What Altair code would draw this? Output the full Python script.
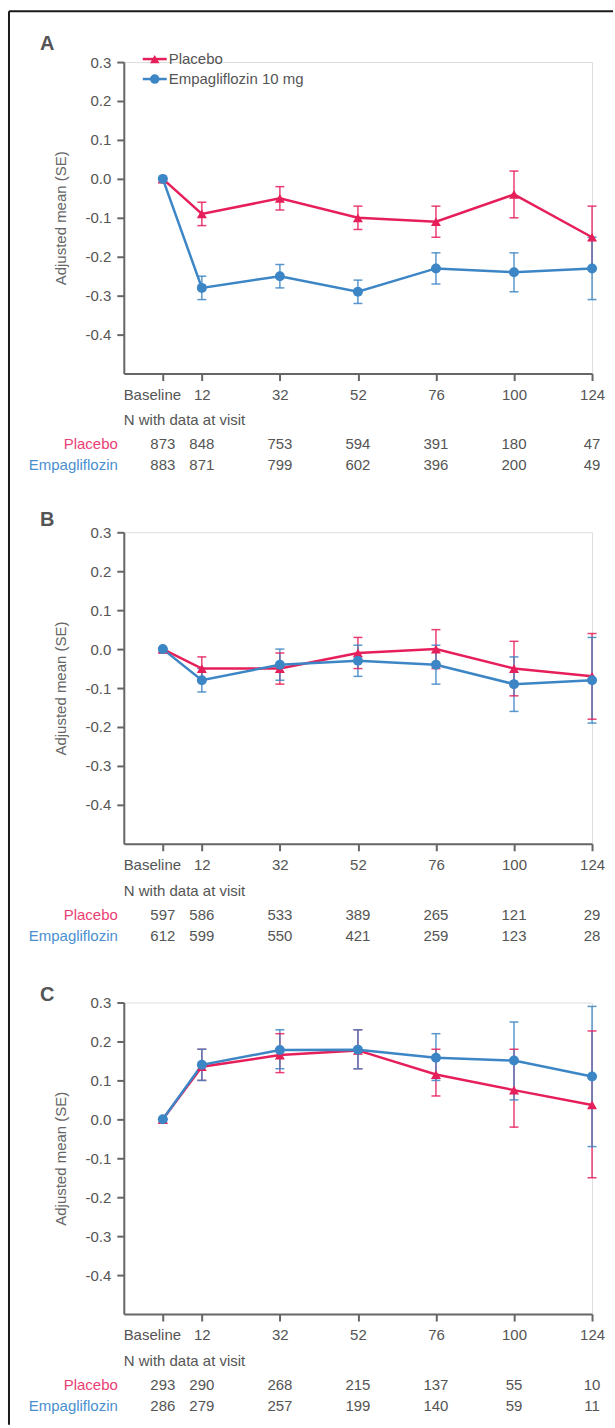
import json
import altair as alt
import pandas as pd

# ---------------- data ----------------
visits = ["Baseline", "12", "32", "52", "76", "100", "124"]
visit_pos = [0.5, 1, 2, 3, 4, 5, 6]          # ordinal slot of each visit on the x axis
groups = ["Placebo", "Empagliflozin 10 mg"]
row_labels = ["Placebo", "Empagliflozin"]
panel_labels = ["A", "B", "C"]
y_ticks = [-0.4, -0.3, -0.2, -0.1, 0.0, 0.1, 0.2, 0.3]

# Panel A
a_pla_mean = [0.0, -0.09, -0.05, -0.10, -0.11, -0.04, -0.15]
a_pla_lo = [-0.01, -0.12, -0.08, -0.13, -0.15, -0.10, -0.23]
a_pla_hi = [0.0, -0.06, -0.02, -0.07, -0.07, 0.02, -0.07]
a_emp_mean = [0.0, -0.28, -0.25, -0.29, -0.23, -0.24, -0.23]
a_emp_lo = [0.0, -0.31, -0.28, -0.32, -0.27, -0.29, -0.31]
a_emp_hi = [0.0, -0.25, -0.22, -0.26, -0.19, -0.19, -0.15]
a_n_pla = [873, 848, 753, 594, 391, 180, 47]
a_n_emp = [883, 871, 799, 602, 396, 200, 49]

# Panel B
b_pla_mean = [0.0, -0.05, -0.05, -0.01, 0.0, -0.05, -0.07]
b_pla_lo = [-0.01, -0.08, -0.09, -0.05, -0.05, -0.12, -0.18]
b_pla_hi = [0.0, -0.02, -0.01, 0.03, 0.05, 0.02, 0.04]
b_emp_mean = [0.0, -0.08, -0.04, -0.03, -0.04, -0.09, -0.08]
b_emp_lo = [0.0, -0.11, -0.08, -0.07, -0.09, -0.16, -0.19]
b_emp_hi = [0.0, -0.05, 0.0, 0.01, 0.01, -0.02, 0.03]
b_n_pla = [597, 586, 533, 389, 265, 121, 29]
b_n_emp = [612, 599, 550, 421, 259, 123, 28]

# Panel C
c_pla_mean = [0.0, 0.135, 0.165, 0.177, 0.115, 0.075, 0.037]
c_pla_lo = [-0.01, 0.10, 0.12, 0.13, 0.06, -0.02, -0.15]
c_pla_hi = [0.0, 0.18, 0.22, 0.23, 0.18, 0.18, 0.227]
c_emp_mean = [0.0, 0.14, 0.178, 0.179, 0.158, 0.151, 0.11]
c_emp_lo = [0.0, 0.10, 0.13, 0.13, 0.10, 0.05, -0.07]
c_emp_hi = [0.0, 0.18, 0.23, 0.23, 0.22, 0.25, 0.29]
c_n_pla = [293, 290, 268, 215, 137, 55, 10]
c_n_emp = [286, 279, 257, 199, 140, 59, 11]

panels = [
    (a_pla_mean, a_pla_lo, a_pla_hi, a_emp_mean, a_emp_lo, a_emp_hi, a_n_pla, a_n_emp),
    (b_pla_mean, b_pla_lo, b_pla_hi, b_emp_mean, b_emp_lo, b_emp_hi, b_n_pla, b_n_emp),
    (c_pla_mean, c_pla_lo, c_pla_hi, c_emp_mean, c_emp_lo, c_emp_hi, c_n_pla, c_n_emp),
]

# ---------------- style ----------------
PINK = "#e61f5a"
BLUE = "#3d86c6"
PINK_TXT = "#ea3f75"
BLUE_TXT = "#4a90d0"
GRAY = "#555555"
AXIS = "#666666"
FONT = "Liberation Sans"
FS = 15
W, H = 469, 312
label_dy = [-12, -6, -2]
shapes = ["triangle-up", "circle"]
colors = [PINK, BLUE]

x_label_expr = f"{json.dumps(visits)}[indexof({json.dumps(visit_pos)}, datum.value)]"


def make_panel(i):
    pm, pl, ph, em, el, eh, npl, nem = panels[i]
    rows = []
    for g, m, lo, hi in [(groups[0], pm, pl, ph), (groups[1], em, el, eh)]:
        for k in range(len(visits)):
            rows.append({"group": g, "visit": visits[k],
                         "pos": visit_pos[k], "mean": m[k], "lo": lo[k], "hi": hi[k]})
    df = pd.DataFrame(rows)

    color = alt.Color("group:N", scale=alt.Scale(domain=groups, range=colors), legend=None)

    x = alt.X(
        "pos:Q",
        scale=alt.Scale(domain=[0, 6], nice=False, zero=False),
        axis=alt.Axis(
            values=visit_pos, labelExpr=x_label_expr, title=None, grid=False,
            domainColor=AXIS, domainWidth=2, tickColor=AXIS, tickWidth=2, tickSize=7,
            labelPadding=7, labelFontSize=FS, labelColor=GRAY, labelFont=FONT,
            labelFlush=False, labelOverlap=False, labelBound=False,
            labelOffset={"condition": {"test": "datum.value == 0.5", "value": -11}, "value": 0},
        ),
    )
    yscale = alt.Scale(domain=[-0.5, 0.3], nice=False, zero=False)
    yaxis = alt.Axis(
        values=y_ticks,
        labelExpr="(datum.value < -0.001 ? '-' : '') + format(abs(datum.value), '.1f')",
        title="Adjusted mean (SE)", titleX=-63, titleY=H / 2, titleAngle=270,
        titleAlign="center", titleBaseline="middle", titleFontWeight="normal",
        titleFontSize=FS, titleColor=AXIS, titleFont=FONT,
        grid=False, domainColor=AXIS, domainWidth=2, tickColor=AXIS, tickWidth=2, tickSize=7,
        labelPadding=6, labelFontSize=FS, labelColor=GRAY, labelFont=FONT,
    )

    base = alt.Chart(df)
    rules = base.mark_rule(strokeWidth=1.5, opacity=0.85).encode(
        x=x, y=alt.Y("lo:Q", scale=yscale, axis=yaxis), y2="hi:Q", color=color)
    cap_lo = base.mark_tick(orient="horizontal", size=9, thickness=1.5, opacity=0.85).encode(
        x="pos:Q", y="lo:Q", color=color)
    cap_hi = base.mark_tick(orient="horizontal", size=9, thickness=1.5, opacity=0.85).encode(
        x="pos:Q", y="hi:Q", color=color)
    line = base.mark_line(strokeWidth=2.5).encode(
        x="pos:Q", y="mean:Q", color=color, order="pos:Q")
    pts = base.mark_point(filled=True, size=100, opacity=1).encode(
        x="pos:Q", y="mean:Q", color=color,
        shape=alt.Shape("group:N", scale=alt.Scale(domain=groups, range=shapes), legend=None))

    ndf = pd.DataFrame({"pos": visit_pos, "n_pla": npl, "n_emp": nem})
    ntxt_p = alt.Chart(ndf).mark_text(fontSize=FS, color=GRAY, font=FONT, baseline="middle").encode(
        x="pos:Q", y=alt.value(383), text="n_pla:Q")
    ntxt_e = alt.Chart(ndf).mark_text(fontSize=FS, color=GRAY, font=FONT, baseline="middle").encode(
        x="pos:Q", y=alt.value(404), text="n_emp:Q")

    rl_p = alt.Chart(pd.DataFrame({"t": [row_labels[0]]})).mark_text(
        fontSize=FS, color=PINK_TXT, font=FONT, align="right", baseline="middle").encode(
        x=alt.value(-6), y=alt.value(383), text="t:N")
    rl_e = alt.Chart(pd.DataFrame({"t": [row_labels[1]]})).mark_text(
        fontSize=FS, color=BLUE_TXT, font=FONT, align="right", baseline="middle").encode(
        x=alt.value(-6), y=alt.value(404), text="t:N")
    nhead = alt.Chart(pd.DataFrame({"t": ["N with data at visit"]})).mark_text(
        fontSize=FS, color=GRAY, font=FONT, align="left", baseline="middle").encode(
        x=alt.value(0), y=alt.value(359), text="t:N")
    plabel = alt.Chart(pd.DataFrame({"t": [panel_labels[i]]})).mark_text(
        fontSize=20, fontWeight="bold", color=GRAY, font=FONT, align="left",
        baseline="alphabetic").encode(x=alt.value(-84), y=alt.value(label_dy[i]), text="t:N")

    layers = [rules, cap_lo, cap_hi, line, pts, ntxt_p, ntxt_e, rl_p, rl_e, nhead, plabel]

    if i == 0:
        # manual legend (line + marker + label)
        leg_y = [-3, 17]
        for g in range(2):
            ldf = pd.DataFrame({"t": [groups[g]]})
            layers.append(alt.Chart(ldf).mark_rule(color=colors[g], strokeWidth=2.5).encode(
                x=alt.value(19), x2=alt.value(43), y=alt.value(leg_y[g])))
            layers.append(alt.Chart(ldf).mark_point(
                filled=True, opacity=1, size=90, shape=shapes[g], color=colors[g]).encode(
                x=alt.value(31), y=alt.value(leg_y[g])))
            layers.append(alt.Chart(ldf).mark_text(
                fontSize=FS, color=GRAY, font=FONT, align="left", baseline="middle").encode(
                x=alt.value(45), y=alt.value(leg_y[g]), text="t:N"))
        fdf = pd.DataFrame({"k": [0]})
        fl = alt.Chart(fdf).mark_rule(color="#1a1a1a", strokeWidth=2).encode(
            x=alt.value(-115), y=alt.value(-51), y2=alt.value(1365))
        ft = alt.Chart(fdf).mark_rule(color="#1a1a1a", strokeWidth=2).encode(
            x=alt.value(-115), x2=alt.value(490), y=alt.value(-51))
        layers += [fl, ft]

    return alt.layer(*layers).properties(width=W, height=H)


chart = (
    alt.vconcat(make_panel(0), make_panel(1), make_panel(2), spacing=159, bounds="flush")
    .resolve_scale(color="independent", shape="independent")
    .properties(padding={"left": 7, "top": 8, "right": 0, "bottom": 0})
    .configure_view(stroke=None)
    .configure(font=FONT)
)

chart.save("out.html", embed_options={"renderer": "svg", "actions": False})
